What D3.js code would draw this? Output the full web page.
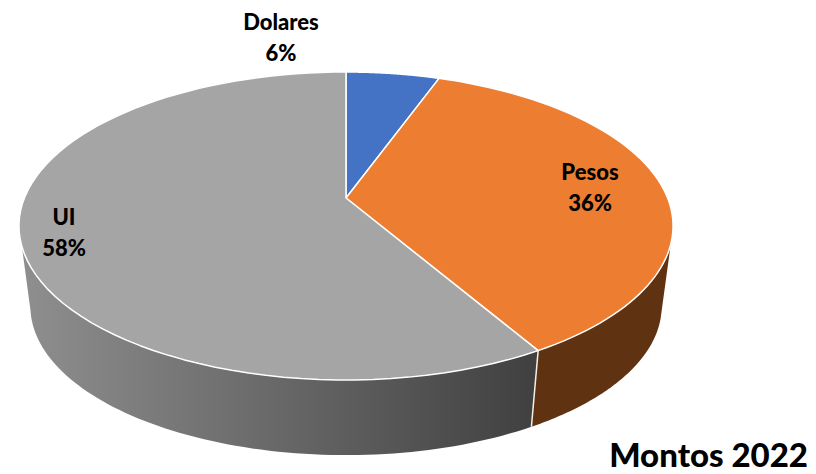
<!DOCTYPE html>
<html>
<head>
<meta charset="utf-8">
<script src="https://cdn.jsdelivr.net/npm/d3@7"></script>
<style>
html, body { margin: 0; padding: 0; background: #fff; }
text { font-family: Lato, "Open Sans", sans-serif; font-weight: 900; fill: #000; }
</style>
</head>
<body>
<div id="chart"></div>
<script>
// data
const categories = ["Dolares", "Pesos", "UI"];
const values = [5.5, 36.1, 58.4];
const colors = ["#4472c4", "#ed7d31", "#a5a5a5"];
const title = "Montos 2022";

// consts
const width = 816;
const height = 474;
const cx = 346, cy = 198;   // where the slices meet
const kx = 321.6, ky = 148.9;
const persp = 0.1818;       // makes the near half of the disc bigger
const depth = 81.5, shrink = 0.965;

const label_x = [281, 590, 64];
const label_y = [30, 180, 225];

const svg = d3.select("#chart").append("svg")
    .attr("width", width)
    .attr("height", height)
    .style("display", "block");

// project(angle, bottom): angle on the disc to screen, bottom = lower rim
function project(a, bottom) {
    const s = bottom ? shrink : 1;
    const d = 1 + persp * Math.cos(a);
    return [cx + s * kx * Math.sin(a) / d,
            cy + (bottom ? depth : 0) - s * ky * Math.cos(a) / d];
}

function rim(a0, a1, bottom) {
    const n = 80;
    return d3.range(n + 1).map(i => project(a0 + (a1 - a0) * i / n, bottom));
}

const line = d3.line();
const arcs = d3.pie().sort(null).value(d => d)(values);
const deg = d => d * Math.PI / 180;

// gradients for the side walls
const defs = svg.append("defs");
const gray_grad = defs.append("linearGradient")
    .attr("id", "wall-gray")
    .attr("gradientUnits", "userSpaceOnUse")
    .attr("x1", 20).attr("x2", 535).attr("y1", 0).attr("y2", 0);
gray_grad.append("stop").attr("offset", 0).attr("stop-color", "#8f8f8f");
gray_grad.append("stop").attr("offset", 0.55).attr("stop-color", "#646464");
gray_grad.append("stop").attr("offset", 1).attr("stop-color", "#404040");

// walls: pesos on the right, UI at the front and left
const pesos_end = arcs[1].endAngle;
svg.append("path")
    .attr("d", line(rim(deg(107), pesos_end, false).concat(rim(pesos_end, deg(104), true))) + "Z")
    .attr("fill", "#5f3212");
svg.append("path")
    .attr("d", line(rim(pesos_end, deg(252), false).concat(rim(deg(258), pesos_end, true))) + "Z")
    .attr("fill", "url(#wall-gray)");
svg.append("path")
    .attr("d", line([project(pesos_end, false), project(pesos_end, true)]))
    .attr("fill", "none")
    .attr("stroke", "#f2efe9")
    .attr("stroke-width", 1.5);

// top of the pie
svg.selectAll("path.slice")
    .data(arcs)
    .enter()
    .append("path")
    .attr("class", "slice")
    .attr("d", d => line([[cx, cy]].concat(rim(d.startAngle, d.endAngle, false))) + "Z")
    .attr("fill", (d, i) => colors[i])
    .attr("stroke", "#fff")
    .attr("stroke-width", 1.5)
    .attr("stroke-linejoin", "round");

// labels
const labels = svg.selectAll("g.label")
    .data(categories)
    .enter()
    .append("g")
    .attr("class", "label")
    .attr("text-anchor", "middle")
    .attr("font-size", 22);
labels.append("text")
    .attr("x", (d, i) => label_x[i])
    .attr("y", (d, i) => label_y[i])
    .text(d => d);
labels.append("text")
    .attr("x", (d, i) => label_x[i])
    .attr("y", (d, i) => label_y[i] + 31)
    .text((d, i) => Math.round(values[i]) + "%");

svg.append("text")
    .attr("x", 808)
    .attr("y", 467)
    .attr("text-anchor", "end")
    .attr("font-size", 33)
    .text(title);
</script>
</body>
</html>
